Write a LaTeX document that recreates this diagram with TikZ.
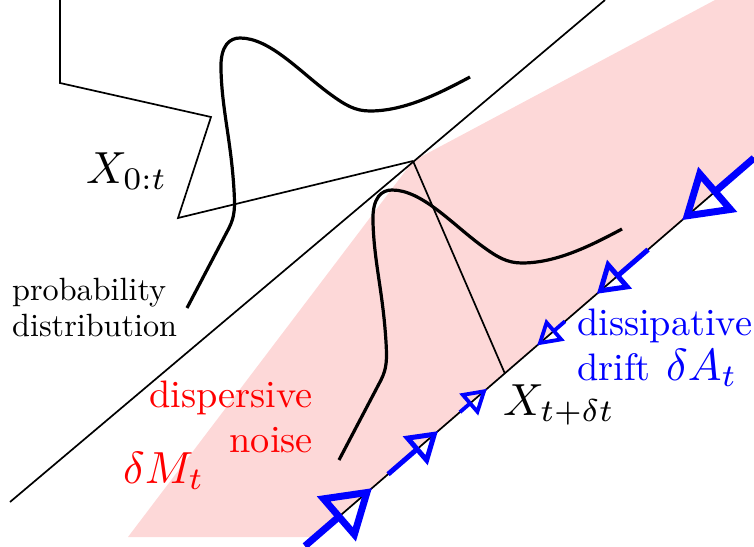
\RequirePackage{fix-cm}
\documentclass[tikz,border=0pt]{standalone}
\usepackage{graphicx}
\usetikzlibrary{arrows.meta,calc}
\definecolor{pinkband}{RGB}{253,216,216}
\newcommand{\blacktext}[2]{\scalebox{3.22}{\fontsize{10}{10.9}\selectfont\begin{tabular}[b]{@{}#1@{}}#2\end{tabular}}}
\newcommand{\coltext}[2]{\scalebox{3.83}{\fontsize{10}{11.6}\selectfont\begin{tabular}[b]{@{}#1@{}}#2\end{tabular}}}
\newcommand{\bigmath}[1]{\scalebox{4.5}{$#1$}}
\begin{document}
\begin{tikzpicture}[x=1pt,y=-1pt,
  thinline/.style={line width=1.7pt},
  bellline/.style={line width=3.2pt},
  arrbig/.style={draw=blue, line width=7pt, -{Triangle[open, length=47pt, width=58pt]}},
  arrmed/.style={draw=blue, line width=5pt, -{Triangle[open, length=30pt, width=37pt]}},
  arrsmall/.style={draw=blue, line width=3.8pt, -{Triangle[open, length=24pt, width=28pt]}},
  lbl/.style={inner sep=0pt, font=\fontsize{10}{12}\selectfont},
  bellcurve/.pic={\draw[bellline] (187,308) -- (229,228)
      .. controls (235,216) and (235,207) .. (234,190)
      .. controls (231,140) and (222,110) .. (221,70)
      .. controls (220,45) and (230,38) .. (240,38)
      .. controls (270,38) and (300,72) .. (330,94)
      .. controls (345,105) and (355,111) .. (370,111)
      .. controls (405,111) and (440,93) .. (470,77);}
]
\useasboundingbox (0,0) rectangle (754,546);
% drift line end points
\coordinate (A) at (305,546);
\coordinate (B) at (754,158);
\coordinate (V) at (413,161);
\coordinate (E) at ($(A)!0.445!(B)$);
\coordinate (Abot) at ($(A)!0.023!(B)$);
% pink band
\fill[pinkband] (128,537) -- (V) -- (715,0) -- (754,0) -- (B) -- (Abot) -- cycle;
% black lines
\draw[thinline] (10,502) -- (605,0);
\draw[thinline] (60,0) -- (60,83) -- (211,117) -- (178,218) -- (V);
\draw[thinline] (V) -- (E);
\draw[thinline] (A) -- (B);
% distributions
\pic {bellcurve};
\pic at (152,152) {bellcurve};
% drift arrows
\coordinate (t1) at ($(A)!0.149!(B)$);
\coordinate (s2) at ($(A)!0.185!(B)$);
\coordinate (t2) at ($(A)!0.296!(B)$);
\coordinate (s3) at ($(A)!0.345!(B)$);
\coordinate (t3) at ($(A)!0.405!(B)$);
\coordinate (t4) at ($(A)!0.517!(B)$);
\coordinate (s4) at ($(A)!0.579!(B)$);
\coordinate (t5) at ($(A)!0.650!(B)$);
\coordinate (s5) at ($(A)!0.764!(B)$);
\coordinate (t6) at ($(A)!0.840!(B)$);
\draw[arrbig] (A) -- (t1);
\draw[arrmed] (s2) -- (t2);
\draw[arrsmall] (s3) -- (t3);
\draw[arrsmall] (s4) -- (t4);
\draw[arrmed] (s5) -- (t5);
\draw[arrbig] (B) -- (t6);
% labels
\node[lbl, anchor=base west] (x0t) at (86,183) {\bigmath{X_{0:t}}};
\node[lbl, anchor=base west] (prob) at (12,336) {\blacktext{l}{probability\\distribution}};
\node[lbl, red, anchor=base east] (disp) at (313,452) {\coltext{r}{dispersive\\noise}};
\node[lbl, red, anchor=base west] (dM) at (123,483) {\bigmath{\delta M_t}};
\node[lbl, blue, anchor=base west] (diss) at (577,380) {\coltext{l}{dissipative\\drift}};
\node[lbl, blue, anchor=base west] (dA) at (666,380) {\bigmath{\delta A_t}};
\node[lbl, anchor=base west] (xt) at (503,415) {\bigmath{X_{t+\delta t}}};
\end{tikzpicture}
\end{document}
